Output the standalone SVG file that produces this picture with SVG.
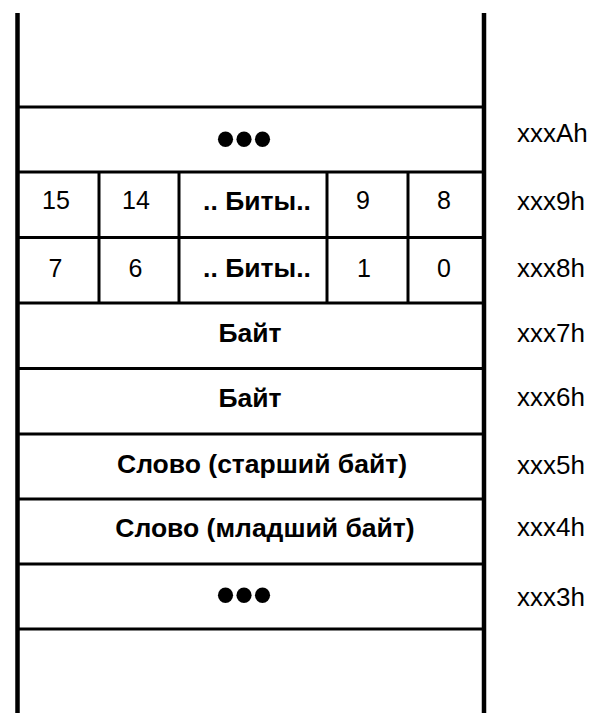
<svg xmlns="http://www.w3.org/2000/svg" width="600" height="724" viewBox="0 0 600 724">
<style>
.bg{fill:#fff}
.thick{stroke:#000;stroke-width:4.5;fill:none}
.thin{stroke:#000;stroke-width:3;fill:none}
.lbl{font-family:"Liberation Sans",Arial,sans-serif;font-size:26px;fill:#000}
.num{font-family:"Liberation Sans",Arial,sans-serif;font-size:25px;fill:#000;text-anchor:middle}
.bold{font-family:"Liberation Sans",Arial,sans-serif;font-size:26.5px;font-weight:bold;fill:#000;text-anchor:middle}
.dots{font-family:"Liberation Sans",Arial,sans-serif;font-size:53px;font-weight:bold;fill:#000;text-anchor:middle}
</style>
<rect class="bg" x="0" y="0" width="600" height="724"/>
<g id="connectors">
<line class="thick" x1="17.5" y1="13" x2="17.5" y2="713"/>
<line class="thick" x1="484" y1="13" x2="484" y2="713"/>
<line class="thin" x1="18" y1="107" x2="484" y2="107"/>
<line class="thin" x1="18" y1="172" x2="484" y2="172"/>
<line class="thin" x1="18" y1="237.5" x2="484" y2="237.5"/>
<line class="thin" x1="18" y1="303" x2="484" y2="303"/>
<line class="thin" x1="18" y1="368.5" x2="484" y2="368.5"/>
<line class="thin" x1="18" y1="434" x2="484" y2="434"/>
<line class="thin" x1="18" y1="499" x2="484" y2="499"/>
<line class="thin" x1="18" y1="564" x2="484" y2="564"/>
<line class="thin" x1="18" y1="629" x2="484" y2="629"/>
<line class="thin" x1="99" y1="172" x2="99" y2="303"/>
<line class="thin" x1="179" y1="172" x2="179" y2="303"/>
<line class="thin" x1="327" y1="172" x2="327" y2="303"/>
<line class="thin" x1="408" y1="172" x2="408" y2="303"/>
</g>
<g id="rowA">
<text class="dots" x="244" y="157">•••</text>
<text class="lbl" x="517" y="142">xxxAh</text>
</g>
<g id="row9">
<text class="num" x="56" y="209">15</text>
<text class="num" x="136" y="209">14</text>
<text class="bold" x="257" y="210">.. Биты..</text>
<text class="num" x="363" y="209">9</text>
<text class="num" x="444" y="209">8</text>
<text class="lbl" x="517" y="210">xxx9h</text>
</g>
<g id="row8">
<text class="num" x="55.5" y="277">7</text>
<text class="num" x="135.5" y="277">6</text>
<text class="bold" x="257" y="277">.. Биты..</text>
<text class="num" x="364" y="277">1</text>
<text class="num" x="444" y="277">0</text>
<text class="lbl" x="517" y="277">xxx8h</text>
</g>
<g id="row7">
<text class="bold" x="250" y="342">Байт</text>
<text class="lbl" x="517" y="342">xxx7h</text>
</g>
<g id="row6">
<text class="bold" x="250" y="407">Байт</text>
<text class="lbl" x="517" y="406">xxx6h</text>
</g>
<g id="row5">
<text class="bold" x="262" y="473">Слово (старший байт)</text>
<text class="lbl" x="517" y="474">xxx5h</text>
</g>
<g id="row4">
<text class="bold" x="265" y="537">Слово (младший байт)</text>
<text class="lbl" x="517" y="536">xxx4h</text>
</g>
<g id="row3">
<text class="dots" x="244" y="613">•••</text>
<text class="lbl" x="517" y="606">xxx3h</text>
</g>
</svg>
